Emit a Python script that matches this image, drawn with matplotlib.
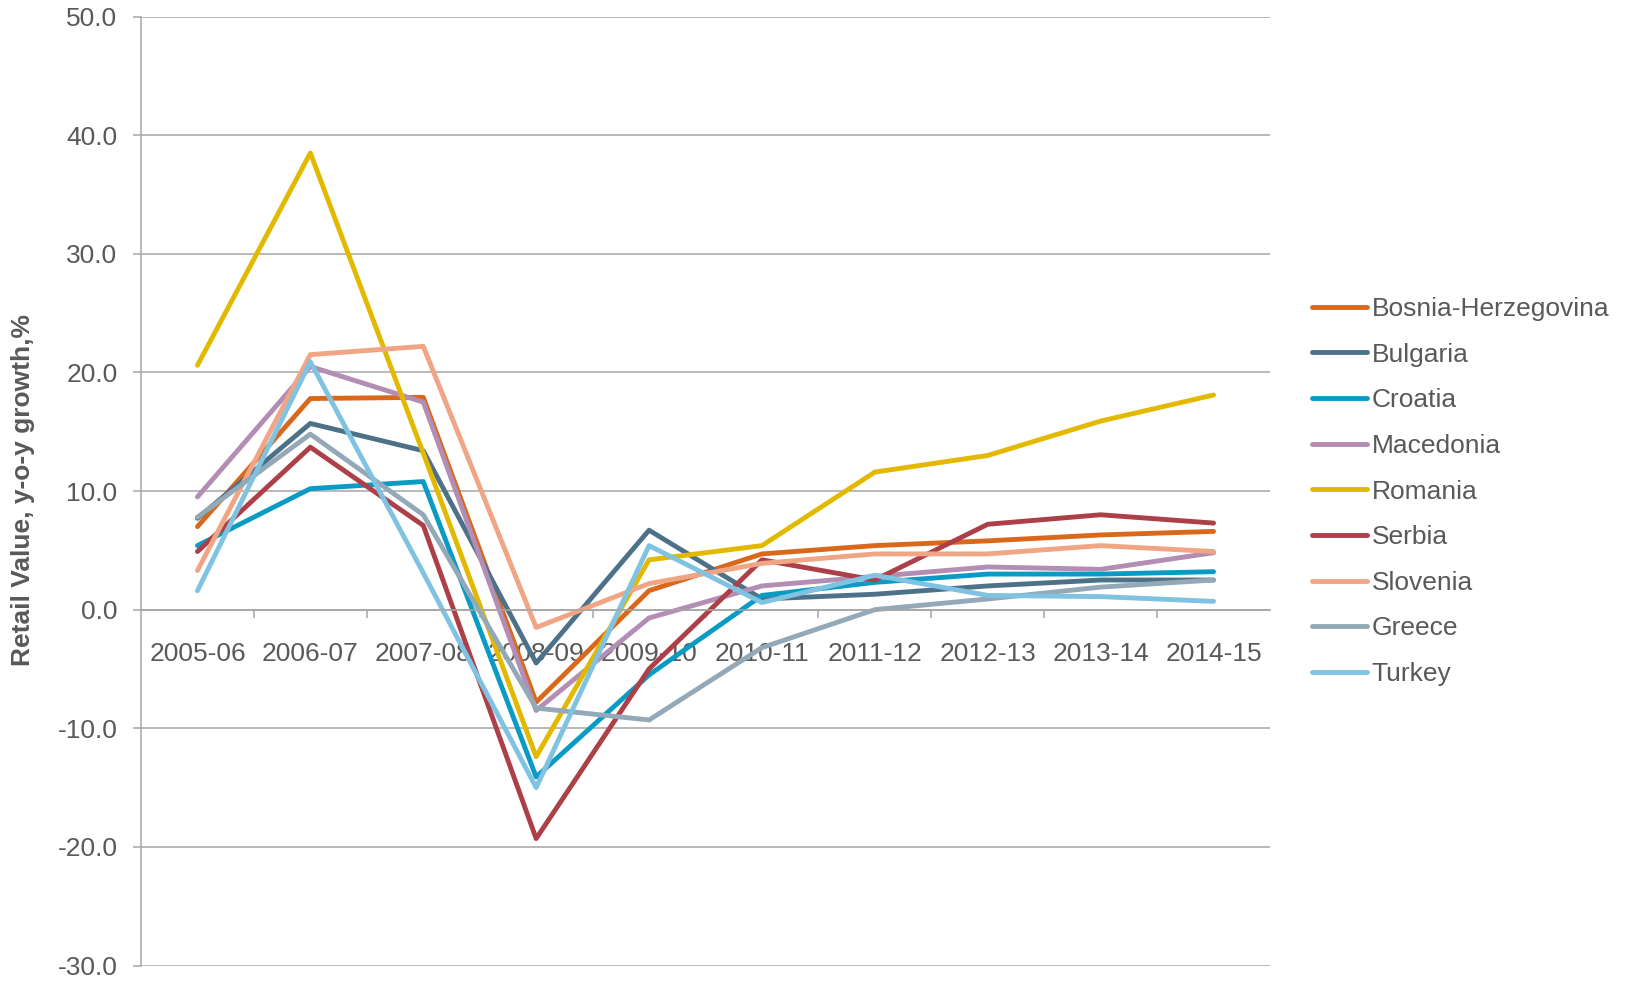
import matplotlib
matplotlib.use("Agg")
import matplotlib.pyplot as plt
from matplotlib.ticker import FixedLocator, NullFormatter, FixedFormatter

periods = ["2005-06", "2006-07", "2007-08", "2008-09", "2009-10",
           "2010-11", "2011-12", "2012-13", "2013-14", "2014-15"]

bosnia = [7.0, 17.8, 17.9, -7.8, 1.6, 4.7, 5.4, 5.8, 6.3, 6.6]
bulgaria = [7.7, 15.7, 13.4, -4.5, 6.7, 0.9, 1.3, 2.0, 2.5, 2.5]
croatia = [5.4, 10.2, 10.8, -14.1, -5.5, 1.2, 2.3, 3.0, 3.0, 3.2]
macedonia = [9.5, 20.5, 17.5, -8.5, -0.7, 2.0, 2.8, 3.6, 3.4, 4.8]
romania = [20.6, 38.5, 13.2, -12.4, 4.2, 5.4, 11.6, 13.0, 15.9, 18.1]
serbia = [4.9, 13.7, 7.1, -19.3, -5.0, 4.2, 2.5, 7.2, 8.0, 7.3]
slovenia = [3.3, 21.5, 22.2, -1.5, 2.2, 3.9, 4.7, 4.7, 5.4, 4.9]
greece = [7.8, 14.8, 8.0, -8.3, -9.3, -3.2, 0.0, 0.9, 1.9, 2.5]
turkey = [1.6, 20.9, 3.1, -15.0, 5.4, 0.6, 2.9, 1.2, 1.1, 0.7]

series_names = ["Bosnia-Herzegovina", "Bulgaria", "Croatia", "Macedonia",
                "Romania", "Serbia", "Slovenia", "Greece", "Turkey"]
series_values = [bosnia, bulgaria, croatia, macedonia, romania, serbia,
                 slovenia, greece, turkey]
colors = ["#D9681B", "#4D7189", "#0A9BC4", "#B38DB3", "#E3B900",
          "#AC3F47", "#F0A584", "#93A9B8", "#80C2E1"]

y_ticks = [-30, -20, -10, 0, 10, 20, 30, 40, 50]

plt.rcParams['font.family'] = ['Liberation Sans', 'DejaVu Sans']

W, H = 1626, 981
fig = plt.figure(figsize=(W / 100, H / 100), dpi=100)
ax = fig.add_axes([141 / W, 1 - 965.5 / H, (1270 - 141) / W, (965.5 - 16.6) / H])

grid_col = "#A6A6A6"
text_col = "#595959"
x = list(range(len(periods)))

for name, vals, c in zip(series_names, series_values, colors):
    ax.plot(x, vals, color=c, lw=3.5, label=name,
            solid_capstyle='round', solid_joinstyle='round')

ax.set_xlim(-0.5, len(periods) - 0.5)
ax.set_ylim(-30, 50)

ax.set_yticks(y_ticks)
ax.set_yticklabels([f"{v:.1f}" for v in y_ticks])
ax.yaxis.grid(True, color=grid_col, lw=1.1)
ax.set_axisbelow(True)

for s in ["top", "right"]:
    ax.spines[s].set_visible(False)
ax.spines["left"].set_color(grid_col)
ax.spines["left"].set_linewidth(1.1)
ax.spines["bottom"].set_position(("data", 0))
ax.spines["bottom"].set_color(grid_col)
ax.spines["bottom"].set_linewidth(1.1)

ax.tick_params(axis='y', direction='out', length=6, width=1.1, color=grid_col,
               labelsize=19, labelcolor=text_col, pad=11)

ax.xaxis.set_major_locator(FixedLocator([i + 0.5 for i in range(len(periods) - 1)]))
ax.xaxis.set_major_formatter(NullFormatter())
ax.xaxis.set_minor_locator(FixedLocator(x))
ax.xaxis.set_minor_formatter(FixedFormatter(periods))
ax.tick_params(axis='x', which='major', direction='out', length=6, width=1.1,
               color=grid_col)
ax.tick_params(axis='x', which='minor', length=0, labelsize=19,
               labelcolor=text_col, pad=23)

fig.text(23 / W, 1 - 490 / H, "Retail Value, y-o-y growth,%", rotation=90,
         fontsize=19, fontweight='bold', color=text_col, ha='center', va='center')

leg = ax.legend(loc='upper left', bbox_to_anchor=(1312 / W, 1 - 297 / H),
                bbox_transform=fig.transFigure, frameon=False, fontsize=19,
                handlelength=2.1, handletextpad=0.15, labelspacing=0.82,
                borderaxespad=0, borderpad=0)
for t in leg.get_texts():
    t.set_color(text_col)

fig.savefig("out.png", dpi=100)
